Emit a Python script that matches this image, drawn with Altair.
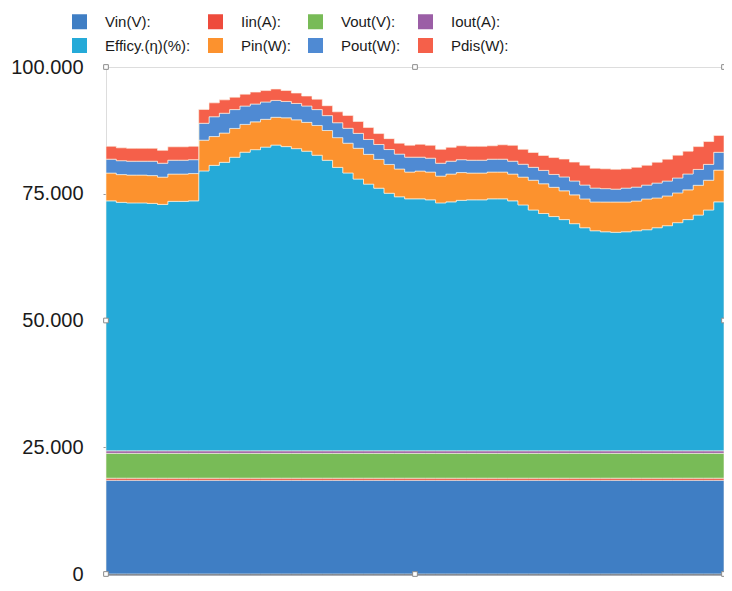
import altair as alt
import pandas as pd

series = ["Vin(V):", "Iin(A):", "Vout(V):", "Iout(A):",
          "Efficy.(η)(%):", "Pin(W):", "Pout(W):", "Pdis(W):"]
colors = ["#3f7ec4", "#ee4b3c", "#78bb57", "#9b5ea6",
          "#25aad8", "#fc922e", "#4f8ad3", "#f5604a"]

N = 60
vin = [18.5] * N
iin = [0.4] * N
vout = [4.9] * N
iout = [0.5] * N

eff = [49.3, 49.0, 48.9, 48.9, 48.8, 48.6, 49.2, 49.2, 49.3, 55.2,
       56.3, 56.9, 57.9, 58.9, 59.4, 59.9, 60.3, 60.0, 59.6, 59.1,
       58.3, 57.3, 55.9, 54.8, 53.6, 52.6, 51.8, 50.8, 50.1, 49.7,
       49.7, 49.5, 48.9, 49.1, 49.4, 49.5, 49.5, 49.7, 49.7, 49.3,
       48.5, 47.5, 46.8, 46.2, 45.6, 44.8, 44.0, 43.4, 43.2, 43.1,
       43.2, 43.4, 43.6, 44.0, 44.4, 45.0, 45.6, 46.5, 47.5, 49.1]
pin = [5.48, 5.48, 5.48, 5.48, 5.48, 5.38, 5.38, 5.38, 5.38, 6.07,
       5.68, 5.77, 5.68, 5.48, 5.48, 5.48, 5.48, 5.68, 5.68, 5.68,
       5.87, 5.87, 5.87, 5.87, 6.07, 5.87, 5.68, 5.68, 5.48, 5.28,
       5.48, 5.48, 5.28, 5.48, 5.48, 5.28, 5.28, 5.28, 5.28, 5.28,
       5.48, 5.87, 5.87, 5.77, 5.68, 5.68, 5.68, 5.68, 5.87, 5.97,
       5.87, 5.87, 6.07, 5.87, 5.87, 5.87, 5.87, 5.87, 5.87, 6.26]
pout = [2.74, 2.74, 2.74, 2.74, 2.84, 2.74, 2.74, 2.74, 2.74, 3.33,
        3.91, 3.91, 3.72, 3.62, 3.52, 3.42, 3.33, 3.23, 3.23, 3.23,
        3.13, 2.94, 2.94, 2.94, 2.94, 2.94, 2.94, 2.94, 2.94, 2.94,
        2.74, 2.74, 2.54, 2.54, 2.54, 2.54, 2.54, 2.54, 2.54, 2.54,
        2.54, 2.54, 2.64, 2.54, 2.74, 2.74, 2.74, 2.74, 2.64, 2.54,
        2.74, 2.74, 2.74, 2.94, 2.94, 2.94, 3.13, 3.13, 3.13, 3.52]
pdis = [2.54, 2.54, 2.54, 2.54, 2.54, 2.54, 2.64, 2.64, 2.64, 2.74,
        2.74, 2.64, 2.45, 2.35, 2.35, 2.25, 2.25, 2.15, 2.05, 1.96,
        2.05, 1.96, 2.15, 2.54, 2.35, 2.35, 2.15, 2.15, 2.15, 2.35,
        2.54, 2.54, 2.74, 2.74, 2.74, 2.74, 2.74, 2.64, 2.84, 3.13,
        2.94, 2.94, 2.94, 3.33, 3.52, 3.72, 3.91, 3.91, 3.91, 3.91,
        3.82, 3.91, 3.91, 4.11, 4.31, 4.50, 4.50, 4.50, 4.50, 3.33]

y_ticks = [0, 25, 50, 75, 100]

# selection-handle squares around the plot frame (in data units)
handle_x = [0, 30, 60, 0, 60, 0, 30, 60]
handle_y = [100, 100, 100, 50, 50, 0, 0, 0]

values = [vin, iin, vout, iout, eff, pin, pout, pdis]
rows = []
for k, (name, vals) in enumerate(zip(series, values)):
    ext = list(vals) + [vals[-1]]  # extend last step to the right edge
    for i, v in enumerate(ext):
        rows.append({"idx": i, "series": name, "value": v, "ord": k})
df = pd.DataFrame(rows)

x_scale = alt.Scale(domain=[0, N], nice=False, zero=False)
y_scale = alt.Scale(domain=[0, 100], nice=False)

area = alt.Chart(df).mark_area(
    interpolate="step-after", stroke="#fbf7ea", strokeWidth=0.8, strokeOpacity=0.75
).encode(
    x=alt.X("idx:Q", scale=x_scale,
            axis=alt.Axis(labels=False, ticks=False, title=None, grid=False,
                          domainColor="#565e6e", domainWidth=2)),
    y=alt.Y("value:Q", stack="zero", scale=y_scale,
            axis=alt.Axis(values=y_ticks, title=None, grid=False, domain=False,
                          labelExpr="datum.value == 0 ? '0' : format(datum.value, '.3f')",
                          labelFontSize=20, labelFont="Liberation Sans",
                          labelColor="#1a1a1a", tickSize=3, tickColor="#999999",
                          labelPadding=20)),
    color=alt.Color("series:N", scale=alt.Scale(domain=series, range=colors),
                    legend=alt.Legend(title=None, orient="none", legendX=-34, legendY=-53,
                                      direction="horizontal",
                                      columns=4, symbolType="square", symbolSize=225,
                                      symbolStrokeWidth=0, labelFontSize=15,
                                      labelFont="Liberation Sans", labelColor="#1a1a1a",
                                      labelOffset=18, columnPadding=17, rowPadding=8,
                                      padding=0)),
    order=alt.Order("ord:Q", sort="ascending"),
)

hdf = pd.DataFrame({"hx": handle_x, "hy": handle_y})
handles = alt.Chart(hdf).mark_square(
    size=22, fill="white", stroke="#8c8c8c", strokeWidth=1, opacity=1, clip=False
).encode(
    x=alt.X("hx:Q", scale=x_scale),
    y=alt.Y("hy:Q", scale=y_scale),
)

chart = alt.layer(area, handles).properties(
    width=618, height=507,
    autosize=alt.AutoSizeParams(type="none"),
    padding={"left": 98, "top": 59, "right": 0, "bottom": 9},
).configure_view(
    stroke="#a5b2d2", strokeWidth=1
).configure(background="white")

chart.save("out.html", embed_options={"renderer": "svg", "actions": False})
